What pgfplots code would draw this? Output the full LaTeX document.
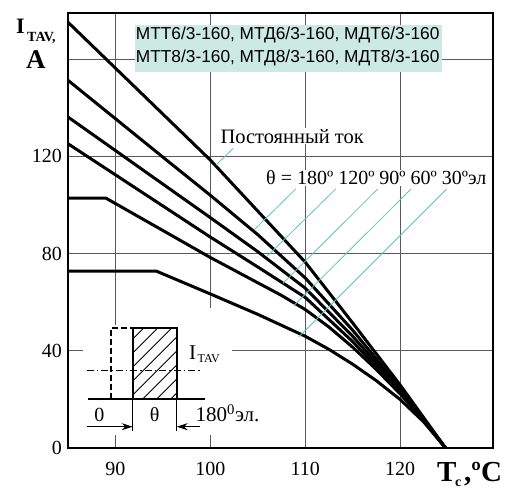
\documentclass[border=0pt]{standalone}
\usepackage{fontspec}
\setmainfont{Liberation Serif}
\newfontfamily\sansf{Liberation Sans}
\usepackage{pgfplots}
\pgfplotsset{compat=1.18}
\usetikzlibrary{arrows.meta}
\definecolor{leader}{RGB}{95,196,180}
\definecolor{legfill}{RGB}{205,233,228}
\definecolor{gridc}{RGB}{90,90,90}
\newcommand{\fs}[1]{\fontsize{#1}{#1}\selectfont}
\tikzset{curve/.style={black, solid, line width=3pt, line join=round}}
\begin{document}
\begin{tikzpicture}
\useasboundingbox (0,0) rectangle (505pt,489pt);
\begin{axis}[
  at={(68pt,41pt)}, anchor=south west,
  scale only axis, width=425pt, height=435pt,
  xmin=85, xmax=129.8, ymin=0, ymax=179,
  xtick={90,100,110,120}, xticklabels={90,100,110,120},
  ytick={0,40,80,120,160}, yticklabels={0,40,80,120,{}},
  grid=major, major grid style={gridc, line width=0.9pt},
  major tick length=0pt,
  axis line style={line width=2.2pt},
  tick label style={font=\fs{20}},
  xticklabel style={anchor=north, inner sep=0pt, yshift=-13.5pt},
  yticklabel style={anchor=east, inner sep=0pt, xshift=-6pt},
]
% DC
\addplot[curve] coordinates {(85,175.2) (90,156.3) (95,137.4) (100,118.5) (105,97.5) (110,76.5) (115,51.5) (120,26) (124.8,0)};
% 180
\addplot[curve] coordinates {(85,151.3) (90,135.5) (95,119.7) (100,104) (105,87.8) (110,70) (115,48.5) (120,24.8) (124.8,0)};
% 120
\addplot[curve] coordinates {(85,136.2) (90,122.4) (95,108.6) (100,94.8) (105,80.8) (110,65.8) (115,46) (120,24) (124.8,0)};
% 90
\addplot[curve] coordinates {(85,125.2) (90,112.4) (95,99.6) (100,86.8) (105,74.5) (110,62) (115,43.8) (120,23.2) (124.8,0)};
% 60
\addplot[curve] coordinates {(85,102.8) (89,102.8) (95,89.5) (100,78.4) (105,68) (107.5,62.8) (110,57) (112.5,49.8) (115,41.5) (117.5,32.3) (120,22.3) (122.5,11.5) (124.8,0)};
% 30
\addplot[curve] coordinates {(85,72.8) (94.3,72.8) (100,63.4) (105,55) (110,46) (112.5,40.6) (115,34.5) (117.5,27.7) (120,20) (122.5,10.7) (124.8,0)};
\end{axis}
\begin{scope}[x=1pt,y=-1pt,shift={(0pt,489pt)}]
% legend box
\fill[legfill] (135,25) rectangle (441.7,71.7);
\node[anchor=base west, inner sep=0pt, font=\sansf\fs{17.3}] at (135.7,40) {МТТ6/3-160, МТД6/3-160, МДТ6/3-160};
\node[anchor=base west, inner sep=0pt, font=\sansf\fs{17.3}] at (135.7,62.7) {МТТ8/3-160, МТД8/3-160, МДТ8/3-160};
% axis labels
\node[anchor=base west, inner sep=0pt, font=\bfseries\fs{22}] at (16,33.3) {I};
\node[anchor=base west, inner sep=0pt, font=\bfseries\fs{14}] at (27,41.7) {TAV,};
\node[anchor=base west, inner sep=0pt, font=\bfseries\fs{27}] at (26,68.3) {A};
\node[anchor=base west, inner sep=0pt, font=\bfseries\fs{29}] at (437,481.7) {T};
\node[anchor=base west, inner sep=0pt, font=\bfseries\fs{14}] at (455,487) {c};
\node[anchor=base west, inner sep=0pt, font=\bfseries\fs{29}] at (464,481.7) {,ºC};
% annotations
\node[anchor=base west, inner sep=1pt, fill=white, font=\fs{20.5}] at (219.3,143.3) {Постоянный ток};
\node[anchor=base west, inner sep=1pt, fill=white, font=\fs{20}] at (265,185) {θ = 180º 120º 90º 60º 30ºэл};
\begin{scope}[leader, line width=0.8pt]
\draw (233.3,148.3) -- (216,165);
\draw (295.7,189) -- (254,230);
\draw (335.7,189) -- (266.7,256.7);
\draw (377.7,189) -- (283,283.3);
\draw (411,189) -- (294,305.5);
\draw (446.7,189) -- (299,336.7);
\end{scope}
% inset
\fill[white] (83,325) rectangle (232,435);
\fill[white] (198,308) rectangle (232,325);
\begin{scope}
\clip (132.7,399) rectangle (176.7,328.3);
\foreach \i in {-60,-46,...,60} {\draw[line width=0.9pt] (132.7+\i,399) -- ++(80,-80);}
\end{scope}
\draw[line width=1.8pt] (132.7,399) rectangle (176.7,328.3);
\draw[line width=1.6pt, dash pattern=on 6pt off 3pt] (110.7,399) -- (110.7,328.3) -- (132.7,328.3);
\draw[line width=1.2pt] (88.3,399) -- (205,399);
\draw[line width=1pt, dash pattern=on 7pt off 3pt on 1.5pt off 3pt] (86.7,371) -- (200,371);
\draw[line width=1pt] (132.7,399) -- (132.7,431);
\draw[line width=1pt] (176.7,399) -- (176.7,431);
\draw[line width=1pt, -{Stealth[length=11pt,width=7pt]}] (86.7,426.7) -- (132.7,426.7);
\draw[line width=1pt, -{Stealth[length=11pt,width=7pt]}] (200,426.7) -- (176.7,426.7);
\node[anchor=base, inner sep=0pt, font=\fs{20}] at (99.3,422) {0};
\node[anchor=base, inner sep=0pt, font=\fs{20}] at (154.7,422) {θ};
\node[anchor=base west, inner sep=0pt, font=\fs{21}] at (195.5,421.7) {180\textsuperscript{0}эл.};
\node[anchor=base west, inner sep=0pt, font=\fs{21}] at (189,360) {I};
\node[anchor=base west, inner sep=0pt, font=\fs{12}] at (197.5,363) {TAV};
\end{scope}
\end{tikzpicture}
\end{document}
